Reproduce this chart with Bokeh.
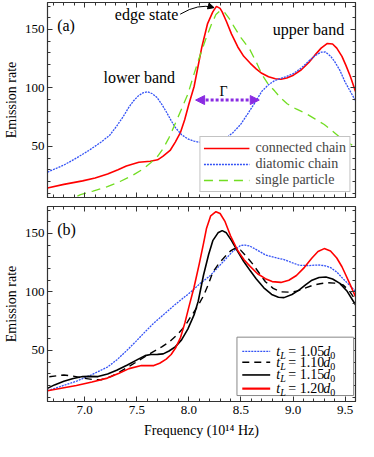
from bokeh.plotting import figure
from bokeh.models import (Range1d, LinearAxis, FixedTicker, NumeralTickFormatter,
                          CustomJSTickFormatter, Legend, LegendItem, Label, Arrow,
                          NormalHead, BoxAnnotation)
from bokeh.layouts import column
from bokeh.embed import file_html
from bokeh.resources import INLINE

# ---------------- data ----------------
# panel (a)
a_conn_f = [6.643, 6.80, 6.98, 7.10, 7.22, 7.32, 7.40, 7.52, 7.63, 7.70, 7.75, 7.82, 7.87, 7.92, 7.96,
            8.00, 8.05, 8.125, 8.18, 8.23, 8.265, 8.30, 8.32, 8.36, 8.41, 8.47, 8.527, 8.59, 8.646,
            8.70, 8.765, 8.83, 8.884, 8.94, 9.004, 9.08, 9.152, 9.21, 9.27, 9.33, 9.38, 9.42, 9.47,
            9.509, 9.55, 9.60]
a_conn_v = [14.5, 17.5, 20.5, 23, 26.4, 30, 33.2, 36.5, 37.3, 38.5, 41.4, 46.5, 53.7, 62, 72.8,
            86, 101, 135, 155, 165, 169.7, 168, 165, 157, 146, 135, 127, 121, 116.3,
            112.5, 109.5, 107.8, 107.4, 108.5, 110.9, 115.5, 121.8, 128, 134, 138, 137.5, 134, 127,
            119, 110, 97]

a_diat_f = [6.643, 6.80, 6.92, 7.04, 7.158, 7.24, 7.307, 7.37, 7.426, 7.47, 7.515, 7.56, 7.604, 7.65,
            7.694, 7.74, 7.783, 7.83, 7.872, 7.93, 7.99, 8.05, 8.14, 8.23, 8.29, 8.348, 8.42, 8.497,
            8.57, 8.646, 8.70, 8.765, 8.82, 8.884, 8.94, 9.004, 9.08, 9.152, 9.21, 9.27, 9.31, 9.36,
            9.40, 9.45, 9.50, 9.55, 9.60]
a_diat_v = [28, 34, 40, 46.5, 53.7, 59.5, 67.3, 75.5, 83.7, 89, 93.2, 95.8, 96.7, 95,
            91.8, 86, 79.6, 72, 65.9, 60, 56.4, 54.5, 52.8, 52.5, 53.6, 56.4, 61.5, 68.7,
            78.5, 89, 97, 102.7, 106, 108.2, 109.8, 112.3, 117, 123, 127.5, 130.5, 130.7, 127.2,
            122.5, 115, 105, 97, 89]

a_single_f = [6.93, 6.96, 7.08, 7.218, 7.34, 7.456, 7.55, 7.634, 7.70, 7.754, 7.81, 7.872, 7.93, 7.99,
              8.05, 8.095, 8.17, 8.22, 8.26, 8.30, 8.34, 8.39, 8.438, 8.50, 8.586, 8.65, 8.705,
              8.76, 8.825, 8.88, 8.944, 9.03, 9.122, 9.21, 9.30, 9.38, 9.45, 9.51, 9.569, 9.60]
a_single_v = [7.5, 8.7, 11.8, 15.6, 20, 25, 30, 36, 41.5, 48.3, 57.5, 70, 82, 94.5,
              112, 124.5, 143.6, 155, 162.7, 166, 165, 159, 151.7, 143, 132.7, 121.5, 111,
              103.5, 97.3, 91.5, 86.4, 82, 78.2, 73.5, 68.7, 63, 57.7, 54, 51, 49.5]

# panel (b)
b_105_f = [6.643, 6.78, 6.92, 7.07, 7.218, 7.31, 7.396, 7.49, 7.575, 7.66, 7.754, 7.84, 7.932, 8.02,
           8.11, 8.20, 8.27, 8.348, 8.42, 8.497, 8.54, 8.586, 8.66, 8.735, 8.82, 8.914, 8.99, 9.063,
           9.15, 9.24, 9.30, 9.36, 9.42, 9.48, 9.54, 9.60]
b_105_v = [15.5, 19.5, 23.6, 29.3, 35.7, 42, 49.2, 57.5, 65.4, 73, 80.3, 87, 93.8, 100,
           107.3, 113.5, 120, 127.6, 134.5, 139.7, 140, 139.2, 135.5, 131.6, 129.5, 127.6, 125, 122.7,
           122.5, 123, 122.5, 120.8, 117, 111.3, 106, 100.5]

b_110_f = [6.66, 6.75, 6.80, 6.89, 6.98, 7.07, 7.158, 7.25, 7.337, 7.43, 7.515, 7.59, 7.664, 7.74,
           7.813, 7.89, 7.962, 8.02, 8.08, 8.14, 8.19, 8.23, 8.29, 8.348, 8.40, 8.438, 8.497, 8.56,
           8.616, 8.68, 8.735, 8.81, 8.884, 8.96, 9.033, 9.11, 9.182, 9.26, 9.33, 9.40, 9.48, 9.54, 9.60]
b_110_v = [27.5, 28.5, 29, 28, 26.3, 25.2, 24.9, 27.5, 31.7, 36.5, 41.1, 45.2, 49.2, 53,
           57.3, 63.5, 70.8, 79, 87, 96.5, 107, 116.8, 124.5, 130.2, 135, 137, 135.7, 129.5,
           123.5, 115.5, 108.7, 103, 100, 99.8, 100.5, 103, 105.4, 107, 107.9, 107.5, 106, 101, 93]

b_115_f = [6.643, 6.71, 6.80, 6.89, 6.98, 7.05, 7.128, 7.22, 7.307, 7.41, 7.515, 7.58, 7.634, 7.70,
           7.754, 7.81, 7.872, 7.93, 7.99, 8.05, 8.09, 8.14, 8.19, 8.23, 8.28, 8.32, 8.36, 8.41, 8.47,
           8.527, 8.59, 8.646, 8.72, 8.795, 8.86, 8.914, 8.99, 9.063, 9.12, 9.182, 9.25, 9.316, 9.38,
           9.45, 9.52, 9.60]
b_115_v = [17.5, 20.5, 23.6, 26, 27.6, 27.8, 27.6, 29.8, 33, 37.5, 42.5, 45.5, 46.5, 46.6,
           47, 49.5, 53.2, 59, 68.2, 80.3, 92, 114, 132, 143.8, 150.5, 152.4, 150.5, 143.8, 134.5,
           126, 118, 111.3, 103.5, 97.8, 95.4, 95.1, 97.8, 101.9, 106, 110, 112.3, 112.7, 111,
           107.3, 100.5, 89]

b_120_f = [6.643, 6.92, 7.07, 7.218, 7.33, 7.426, 7.545, 7.664, 7.72, 7.783, 7.83, 7.872, 7.92, 7.962,
           8.00, 8.05, 8.10, 8.14, 8.17, 8.21, 8.26, 8.30, 8.348, 8.40, 8.467, 8.53, 8.586, 8.66,
           8.735, 8.80, 8.884, 8.96, 9.033, 9.11, 9.182, 9.24, 9.30, 9.36, 9.42, 9.47, 9.509, 9.55, 9.60]
b_120_v = [15.5, 20, 23, 26.3, 30.5, 34.4, 37, 37, 39, 42.5, 46.5, 52, 61, 73.5,
           87, 104, 124, 141, 154.5, 165, 168.6, 167, 160, 148, 135.7, 127.5, 122, 115.5,
           111.3, 108.8, 108.1, 110, 114, 121, 129, 134.5, 137, 135, 129, 121.5, 114, 106, 96]

a_labels = ["connected chain", "diatomic chain", "single particle"]
b_values = ["1.05", "1.10", "1.15", "1.20"]

y_major = [50, 100, 150]
y_minor = [10, 20, 30, 40, 60, 70, 80, 90, 110, 120, 130, 140, 160, 170]
x_major = [7.0, 7.5, 8.0, 8.5, 9.0, 9.5]
x_minor = [6.7, 6.8, 6.9, 7.1, 7.2, 7.3, 7.4, 7.6, 7.7, 7.8, 7.9, 8.1, 8.2, 8.3, 8.4,
           8.6, 8.7, 8.8, 8.9, 9.1, 9.2, 9.3, 9.4, 9.6]

# ---------------- style ----------------
FONT = "Liberation Serif"
RED = "#ff0000"
BLUE = "#3352f5"
GREEN = "#72dd22"
PURPLE = "#8a2be2"
FRAME = "#333333"
X0, X1 = 6.643, 9.6
Y0, Y1 = 6.3, 173.0


def style_axis(ax, ticks, minor):
    ax.ticker = FixedTicker(ticks=ticks, minor_ticks=minor)
    ax.major_tick_in = 5
    ax.major_tick_out = 0
    ax.minor_tick_in = 3
    ax.minor_tick_out = 0
    ax.major_tick_line_color = FRAME
    ax.minor_tick_line_color = FRAME
    ax.axis_line_color = FRAME
    ax.major_label_text_font = FONT
    ax.major_label_text_font_size = "13px"
    ax.major_label_text_color = "black"
    ax.axis_label_text_font = FONT
    ax.axis_label_text_font_size = "14px"
    ax.axis_label_text_font_style = "normal"
    ax.axis_label_text_color = "black"


def blank_axis(ticks, minor):
    ax = LinearAxis()
    style_axis(ax, ticks, minor)
    ax.formatter = CustomJSTickFormatter(code="return ''")
    ax.major_label_text_font_size = "1px"
    ax.major_label_standoff = 0
    return ax


def make_fig(height, top, bottom, xlabels):
    p = figure(width=358, height=height, x_range=Range1d(X0, X1), y_range=Range1d(Y0, Y1),
               x_axis_location=None, y_axis_location=None, output_backend="svg",
               toolbar_location=None, min_border_left=36, min_border_right=3,
               min_border_top=top, min_border_bottom=bottom)
    p.grid.visible = False
    p.outline_line_color = FRAME
    p.outline_line_width = 1.2
    p.background_fill_color = "white"
    p.border_fill_color = "white"

    left = LinearAxis(axis_label="Emission rate", major_label_standoff=3, axis_label_standoff=3)
    style_axis(left, y_major, y_minor)
    p.add_layout(left, "left")
    p.add_layout(blank_axis(y_major, y_minor), "right")
    p.add_layout(blank_axis(x_major, x_minor), "above")

    if xlabels:
        bot = LinearAxis(axis_label="Frequency (10\u00b9\u2074 Hz)",
                         formatter=NumeralTickFormatter(format="0.0"),
                         major_label_standoff=4, axis_label_standoff=6)
        style_axis(bot, x_major, x_minor)
    else:
        bot = blank_axis(x_major, x_minor)
    p.add_layout(bot, "below")
    return p


def text(p, x, y, s, size="16px", align="left", style="normal", xo=0, yo=0, color="black"):
    p.add_layout(Label(x=x, y=y, text=s, text_font=FONT, text_font_size=size,
                       text_align=align, text_baseline="middle", text_font_style=style,
                       x_offset=xo, y_offset=yo, text_color=color))


# ---------------- panel (a) ----------------
pa = make_fig(202, 2, 5, False)
r_conn = pa.line(a_conn_f, a_conn_v, line_color=RED, line_width=1.6)
r_diat = pa.line(a_diat_f, a_diat_v, line_color=BLUE, line_width=1.3, line_dash="2 1")
r_single = pa.line(a_single_f, a_single_v, line_color=GREEN, line_width=1.3, line_dash="9 6")

leg = Legend(items=[LegendItem(label=a_labels[0], renderers=[r_conn]),
                    LegendItem(label=a_labels[1], renderers=[r_diat]),
                    LegendItem(label=a_labels[2], renderers=[r_single])],
             location="bottom_right", label_text_font=FONT, label_text_font_size="14px",
             glyph_width=46, glyph_height=12, label_height=12, spacing=-2, padding=3,
             margin=5, label_standoff=6, border_line_color="#888888", border_line_width=1,
             background_fill_alpha=1.0)
pa.add_layout(leg)

text(pa, 6.736, 153, "(a)")
text(pa, 7.524, 109, "lower band", align="center")
text(pa, 9.148, 149.6, "upper band", align="center")
text(pa, 7.899, 163, "edge state", align="right")
pa.quadratic(x0=[7.917], y0=[163], x1=[8.237], y1=[168.7], cx=[8.095], cy=[172.5],
             line_color="black", line_width=1)
pa.add_layout(Arrow(end=NormalHead(size=6, fill_color="black", line_color="black"),
                    x_start=8.194, y_start=169.84, x_end=8.242, y_end=168.6,
                    line_color="black", line_width=1))
pa.add_layout(Arrow(start=NormalHead(size=9, fill_color=PURPLE, line_color=PURPLE),
                    end=NormalHead(size=9, fill_color=PURPLE, line_color=PURPLE),
                    x_start=8.065, y_start=89.6, x_end=8.676, y_end=89.6,
                    line_color=PURPLE, line_width=3, line_dash="3 2"))
text(pa, 8.334, 96.7, "\u0393", size="14px", align="center")

# ---------------- panel (b) ----------------
pb = make_fig(239, 4, 40, True)
pb.line(b_105_f, b_105_v, line_color=BLUE, line_width=1.3, line_dash="2 1")
pb.line(b_110_f, b_110_v, line_color="black", line_width=1.4, line_dash="7 5")
pb.line(b_115_f, b_115_v, line_color="black", line_width=1.6)
pb.line(b_120_f, b_120_v, line_color=RED, line_width=1.6)
text(pb, 6.736, 153.2, "(b)")

pb.add_layout(BoxAnnotation(left=8.462, right=9.582, bottom=11.4, top=61.3,
                            fill_color="white", fill_alpha=1.0, line_color="#888888",
                            line_width=1, line_alpha=1.0))
row_y = [49.2, 39.8, 29.0, 17.3]
styles = [dict(line_color=BLUE, line_width=1.3, line_dash="2 1"),
          dict(line_color="black", line_width=1.4, line_dash="7 5"),
          dict(line_color="black", line_width=1.6),
          dict(line_color=RED, line_width=2.2)]
for val, yy, st in zip(b_values, row_y, styles):
    r = pb.line([8.513, 8.781], [yy, yy], **st)
    r.level = "overlay"
    tx = 8.839
    text(pb, tx, yy, "t", size="14px", style="italic")
    text(pb, tx, yy, "L", size="10px", style="italic", xo=4, yo=-4)
    text(pb, tx, yy, "= " + val, size="14px", xo=12)
    text(pb, tx, yy, "d", size="14px", style="italic", xo=47)
    text(pb, tx, yy, "0", size="10px", xo=54, yo=-4)

layout = column(pa, pb)
open("out.html", "w").write(file_html(layout, INLINE))
